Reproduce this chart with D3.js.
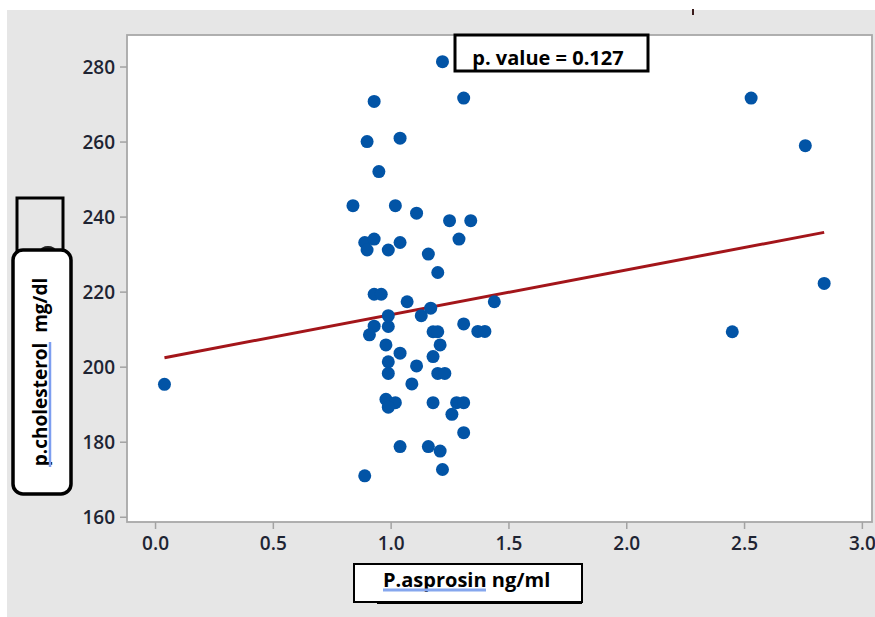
<!DOCTYPE html>
<html>
<head>
<meta charset="utf-8">
<style>
  body { margin: 0; background: #fff; }
  svg { display: block; }
  .tick text { font-family: "Open Sans", sans-serif; font-weight: 600; font-size: 19px; fill: #1e2433; }
  .tick line { stroke: #a3a3a3; stroke-width: 1.5; }
</style>
<script src="https://d3js.org/d3.v7.min.js"></script>
</head>
<body>
<div id="chart"></div>
<script>

// data
var asprosin = [0.04, 0.84, 0.90, 0.93, 0.95, 0.89, 0.90, 0.93, 0.89, 0.93, 0.96, 0.93, 0.91,
                0.99, 0.99, 0.98, 0.99, 0.99, 0.98, 1.02, 0.99, 1.04, 1.02, 1.04, 1.04, 1.04,
                1.07, 1.09, 1.11, 1.11, 1.13, 0.99, 1.16, 1.17, 1.18, 1.20, 1.18, 1.18, 1.20,
                1.21, 1.20, 1.23, 1.22, 1.21, 1.22, 1.16, 1.25, 1.26, 1.29, 1.28, 1.31, 1.31,
                1.31, 1.31, 1.34, 1.37, 1.40, 1.44, 2.45, 2.53, 2.76, 2.84];
var cholesterol = [195.3, 242.9, 260.0, 270.7, 252.0, 233.1, 231.1, 234.0, 170.9, 219.3, 219.3, 210.8, 208.5,
                   231.1, 210.7, 205.8, 201.3, 198.2, 191.3, 190.4, 189.2, 260.9, 242.9, 233.1, 203.6, 178.7,
                   217.3, 195.4, 240.9, 200.2, 213.6, 213.6, 230.0, 215.6, 209.3, 209.3, 202.7, 190.4, 225.1,
                   205.8, 198.2, 198.2, 281.3, 177.5, 172.6, 178.7, 238.9, 187.3, 234.0, 190.4, 190.4, 271.6,
                   211.4, 182.4, 238.9, 209.4, 209.4, 217.3, 209.3, 271.6, 258.9, 222.2];

// fitted line end points
var fitX = [0.04, 2.84];
var fitY = [202.4, 235.8];

var xTicks = [0.0, 0.5, 1.0, 1.5, 2.0, 2.5, 3.0];
var yTicks = [160, 180, 200, 220, 240, 260, 280];

var pText = "p. value = 0.127";
var xTitle = "P.asprosin ng/ml";
var yTitle = "p.cholesterol  mg/dl";

var W = 875, H = 617;
var plot = {left: 127, top: 35, right: 872, bottom: 522};

var svg = d3.select("#chart").append("svg")
    .attr("width", W)
    .attr("height", H);

// gray panel
svg.append("rect")
    .attr("x", 7).attr("y", 10)
    .attr("width", W - 7).attr("height", H - 10)
    .attr("fill", "#e6e6e6");

// small mark at the top
svg.append("rect")
    .attr("x", 692).attr("y", 9)
    .attr("width", 2).attr("height", 6)
    .attr("fill", "#3a1c1c");

var x = d3.scaleLinear()
    .domain([-0.119, 3.043])
    .range([plot.left, plot.right]);

var y = d3.scaleLinear()
    .domain([158.6, 288.4])
    .range([plot.bottom, plot.top]);

// plot area
svg.append("rect")
    .attr("x", plot.left).attr("y", plot.top)
    .attr("width", plot.right - plot.left)
    .attr("height", plot.bottom - plot.top)
    .attr("fill", "#fff")
    .attr("stroke", "#a8a8a8")
    .attr("stroke-width", 1.8);

// axes
var xAxis = svg.append("g")
    .attr("transform", "translate(0," + plot.bottom + ")")
    .call(d3.axisBottom(x).tickValues(xTicks).tickFormat(d3.format(".1f")).tickSize(7).tickPadding(7.5));
xAxis.select(".domain").remove();

var yAxis = svg.append("g")
    .attr("transform", "translate(" + plot.left + ",0)")
    .call(d3.axisLeft(y).tickValues(yTicks).tickSize(7).tickPadding(5));
yAxis.select(".domain").remove();
yAxis.selectAll("text").attr("dy", "0.38em");

// fit line
var pts = fitX.map(function(d, i) { return [d, fitY[i]]; });
svg.append("path")
    .datum(pts)
    .attr("d", d3.line()
        .x(function(d) { return x(d[0]); })
        .y(function(d) { return y(d[1]); }))
    .attr("fill", "none")
    .attr("stroke", "#a3151a")
    .attr("stroke-width", 3);

// points
svg.selectAll(".dot")
    .data(asprosin.map(function(d, i) { return {a: d, c: cholesterol[i]}; }))
  .enter().append("circle")
    .attr("class", "dot")
    .attr("cx", function(d) { return x(d.a); })
    .attr("cy", function(d) { return y(d.c); })
    .attr("r", 6.5)
    .attr("fill", "#0254a6");

// p value box
svg.append("rect")
    .attr("x", 455).attr("y", 35)
    .attr("width", 193).attr("height", 36)
    .attr("fill", "#fff")
    .attr("stroke", "#000")
    .attr("stroke-width", 3);
svg.append("text")
    .attr("x", 548).attr("y", 65)
    .attr("text-anchor", "middle")
    .style("font-family", "Open Sans, sans-serif")
    .style("font-weight", 700)
    .style("font-size", "20px")
    .style("white-space", "pre")
    .text(pText);

// x title box
svg.append("line")
    .attr("x1", 377).attr("x2", 582)
    .attr("y1", 603).attr("y2", 603)
    .attr("stroke", "#000").attr("stroke-width", 2);
svg.append("rect")
    .attr("x", 354).attr("y", 564)
    .attr("width", 228).attr("height", 38)
    .attr("fill", "#fff")
    .attr("stroke", "#000")
    .attr("stroke-width", 2);
svg.append("text")
    .attr("x", 383).attr("y", 587)
    .style("font-family", "Open Sans, sans-serif")
    .style("font-weight", 700)
    .style("font-size", "20px")
    .text(xTitle);
svg.append("line")
    .attr("x1", 383).attr("x2", 486)
    .attr("y1", 590).attr("y2", 590)
    .attr("stroke", "#86a7ee").attr("stroke-width", 3);

// y title boxes
svg.append("rect")
    .attr("x", 17).attr("y", 198)
    .attr("width", 46).attr("height", 60)
    .attr("fill", "#e6e6e6")
    .attr("stroke", "#000")
    .attr("stroke-width", 3);
svg.append("ellipse")
    .attr("cx", 48).attr("cy", 251)
    .attr("rx", 8).attr("ry", 5)
    .attr("fill", "#222");
svg.append("rect")
    .attr("x", 13).attr("y", 250)
    .attr("width", 58).attr("height", 244)
    .attr("rx", 10).attr("ry", 10)
    .attr("fill", "#fff")
    .attr("stroke", "#000")
    .attr("stroke-width", 3.5);
svg.append("text")
    .attr("transform", "translate(47,372) rotate(-90)")
    .attr("text-anchor", "middle")
    .style("font-family", "Open Sans, sans-serif")
    .style("font-weight", 700)
    .style("font-size", "19px")
    .style("white-space", "pre")
    .text(yTitle);
svg.append("line")
    .attr("x1", 50).attr("x2", 50)
    .attr("y1", 342).attr("y2", 467)
    .attr("stroke", "#7d9ef0").attr("stroke-width", 2.5);

</script>
</body>
</html>
